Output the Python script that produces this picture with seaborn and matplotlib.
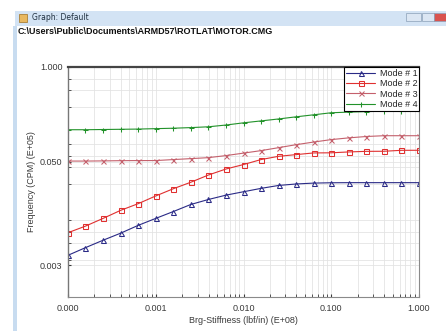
import numpy as np
import seaborn as sns
import matplotlib.pyplot as plt
from matplotlib.patches import Rectangle
from matplotlib.ticker import FixedLocator, FixedFormatter, LogLocator, NullFormatter

# stiffness values (E+08), 0.2 decade steps
stiffness = [0.0001, 0.000158, 0.000251, 0.000398, 0.000631, 0.001, 0.00158, 0.00251,
             0.00398, 0.00631, 0.01, 0.0158, 0.0251, 0.0398, 0.0631, 0.1, 0.158, 0.251,
             0.398, 0.631, 1.0]

mode1 = [0.0035, 0.0044, 0.0055, 0.0068, 0.0086, 0.0106, 0.0130, 0.0161, 0.0187, 0.0213,
         0.0236, 0.0261, 0.0285, 0.0298, 0.0306, 0.0309, 0.0310, 0.0310, 0.0310, 0.0310, 0.0310]
mode2 = [0.0069, 0.0084, 0.0106, 0.0135, 0.0165, 0.0208, 0.0258, 0.0314, 0.0390, 0.0467,
         0.0534, 0.0620, 0.0684, 0.0720, 0.0757, 0.0760, 0.0780, 0.0794, 0.0796, 0.0819, 0.0820]
mode3 = [0.0593, 0.0593, 0.0596, 0.0600, 0.0602, 0.0602, 0.0620, 0.0638, 0.0657, 0.0699,
         0.0753, 0.0811, 0.0887, 0.0970, 0.105, 0.113, 0.119, 0.124, 0.127, 0.127, 0.127]
mode4 = [0.152, 0.152, 0.153, 0.154, 0.155, 0.157, 0.159, 0.162, 0.166, 0.175,
         0.187, 0.198, 0.210, 0.224, 0.238, 0.253, 0.258, 0.262, 0.265, 0.267, 0.268]

mode_names = ["Mode # 1", "Mode # 2", "Mode # 3", "Mode # 4"]
mode_colors = ["#2a2a86", "#e03030", "#c4606c", "#22922a"]
mode_markers = ["^", "s", "x", "+"]

x_ticks = [0.0001, 0.001, 0.01, 0.1, 1.0]
x_tick_labels = ["0.000", "0.001", "0.010", "0.100", "1.000"]
y_ticks = [1.0, 0.058, 0.0026]
y_tick_labels = ["1.000", "0.050", "0.003"]

sns.set_style("white")
plt.rcParams['font.family'] = ['Liberation Sans', 'DejaVu Sans']

fig = plt.figure(figsize=(4.46, 3.31), dpi=100)
fig.patch.set_facecolor("white")

# window chrome
fig.patches.append(Rectangle((15 / 446, 1 - 26 / 331), 431 / 446, 15 / 331,
                             transform=fig.transFigure, facecolor="#d3e3f4", edgecolor="none"))
fig.patches.append(Rectangle((13 / 446, 0), 4 / 446, 1 - 26 / 331,
                             transform=fig.transFigure, facecolor="#c8dcf0", edgecolor="none"))
fig.patches.append(Rectangle((19 / 446, 1 - 22 / 331), 8 / 446, 8 / 331,
                             transform=fig.transFigure, facecolor="#e8b860", edgecolor="#a07020", lw=0.5))
for bx, bw, bc in [(406, 15, "#dbe6f3"), (422, 12, "#dbe6f3"), (434, 12, "#d9534f")]:
    fig.patches.append(Rectangle((bx / 446, 1 - 21 / 331), bw / 446, 8 / 331,
                                 transform=fig.transFigure, facecolor=bc, edgecolor="#8aa0b8", lw=0.5))
fig.text(32 / 446, 1 - 18 / 331, "Graph: Default", fontsize=5.5, va="center", ha="left",
         color="#203040", family=["DejaVu Sans"])
fig.text(18 / 446, 1 - 32 / 331, "C:\\Users\\Public\\Documents\\ARMD57\\ROTLAT\\MOTOR.CMG",
         fontsize=6.5, fontweight="bold", va="center", ha="left", color="#101010")

ax = fig.add_axes([68 / 446, 1 - 297 / 331, 351 / 446, 230 / 331])

series = [mode1, mode2, mode3, mode4]
for vals, name, col, mk in zip(series, mode_names, mode_colors, mode_markers):
    sns.lineplot(x=stiffness, y=vals, ax=ax, color=col, marker=mk, label=name,
                 linewidth=0.8, markersize=3.6, markerfacecolor="none",
                 markeredgecolor=col, markeredgewidth=0.75)

ax.set_xscale("log")
ax.set_yscale("log")
ax.set_xlim(0.0001, 1.0)
ax.set_ylim(0.001, 1.0)

ax.xaxis.set_major_locator(FixedLocator(x_ticks))
ax.xaxis.set_major_formatter(FixedFormatter(x_tick_labels))
ax.xaxis.set_minor_locator(LogLocator(base=10, subs=np.arange(2, 10)))
ax.xaxis.set_minor_formatter(NullFormatter())
ax.yaxis.set_major_locator(FixedLocator(y_ticks))
ax.yaxis.set_major_formatter(FixedFormatter(y_tick_labels))
ax.yaxis.set_minor_locator(LogLocator(base=10, subs=[1, 3, 5, 7]))
ax.yaxis.set_minor_formatter(NullFormatter())

ax.grid(True, which="both", color="#e2e2e2", linewidth=0.55)
ax.tick_params(which="both", direction="in", labelsize=6.5, colors="#3a3a3a", length=2,
               bottom=True, left=True)
ax.tick_params(axis="x", pad=5)
ax.tick_params(axis="y", pad=4)

for side in ["bottom", "right"]:
    ax.spines[side].set_color("#8a8a8a")
    ax.spines[side].set_linewidth(0.8)
ax.spines["top"].set_color("#444444")
ax.spines["top"].set_linewidth(1.6)
ax.spines["left"].set_color("#777777")
ax.spines["left"].set_linewidth(1.0)

ax.set_xlabel("Brg-Stiffness (lbf/in) (E+08)", fontsize=6.5, color="#3a3a3a", labelpad=2)
ax.set_ylabel("Frequency (CPM) (E+05)", fontsize=6.5, color="#3a3a3a", labelpad=3)

leg = ax.legend(loc="upper right", fontsize=6.5, frameon=True, fancybox=False,
                edgecolor="black", framealpha=1, borderpad=0.2, labelspacing=0.15,
                handlelength=3.2, handletextpad=0.5, borderaxespad=0.0)
leg.get_frame().set_linewidth(0.8)

fig.savefig("out.png", dpi=100)
